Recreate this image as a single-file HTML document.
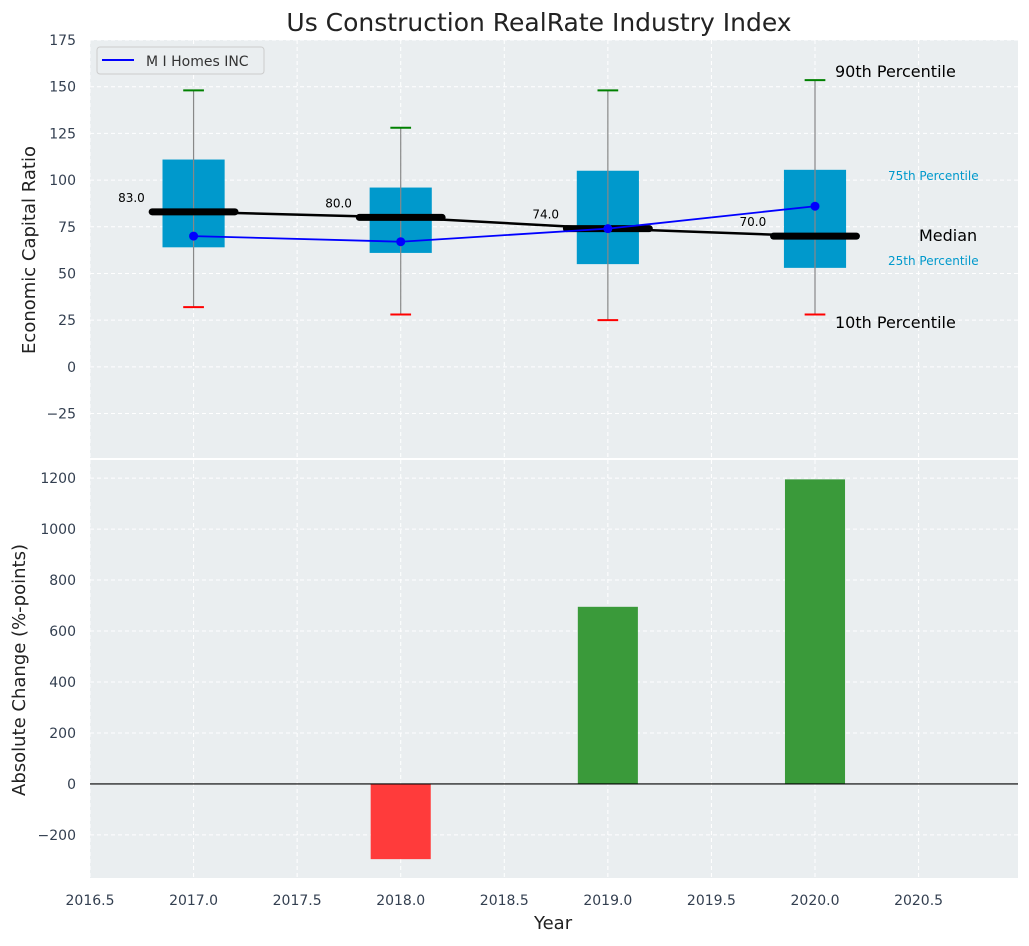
<!DOCTYPE html>
<html><head><meta charset="utf-8"><style>
body{margin:0;background:#fff;font-family:"DejaVu Sans","Liberation Sans",sans-serif;}
svg text{font-family:"DejaVu Sans","Liberation Sans",sans-serif;}
</style></head><body>
<svg id="c" width="1029" height="942" xmlns="http://www.w3.org/2000/svg"></svg>
<script>
const years=[2017,2018,2019,2020];
const p10=[32,28,25,28];
const q1=[64,61,55,53];
const medians=[83,80,74,70];
const q3=[111,96,105,105.5];
const p90=[148,128,148,153.5];
const company=[70,67,74,86];
const changes=[0,-295,695,1195];
const topTicks=[-25,0,25,50,75,100,125,150,175];
const botTicks=[-200,0,200,400,600,800,1000,1200];
const xTicks=[2016.5,2017,2017.5,2018,2018.5,2019,2019.5,2020,2020.5];

const NS="http://www.w3.org/2000/svg";
const svg=document.getElementById('c');
function el(t,a,p){const e=document.createElementNS(NS,t);for(const k in a)e.setAttribute(k,a[k]);(p||svg).appendChild(e);return e;}
const L=90,R=1018;
const X=v=>L+(v-2016.5)/(2020.98-2016.5)*(R-L);
const T0=40,T1=458,B0=460,B1=878;
const YT=v=>T0+(175-v)/(175+48.8)*(T1-T0);
const YB=v=>B0+(1271-v)/(1271+369)*(B1-B0);

let t=el('text',{x:539,y:31,'text-anchor':'middle','font-size':25,fill:'#222'});t.textContent='Us Construction RealRate Industry Index';


let bg=el('rect',{x:L,y:T0,width:R-L,height:T1-T0,fill:'#eaeef0'});

let bg2=el('rect',{x:L,y:B0,width:R-L,height:B1-B0,fill:'#eaeef0'});


const grid='#ffffff';
xTicks.forEach(v=>{
  el('line',{x1:X(v),x2:X(v),y1:T0,y2:T1,stroke:grid,'stroke-dasharray':'4,3','stroke-width':1});
  el('line',{x1:X(v),x2:X(v),y1:B0,y2:B1,stroke:grid,'stroke-dasharray':'4,3','stroke-width':1});
  const tx=el('text',{x:X(v),y:905,'text-anchor':'middle','font-size':14,fill:'#333f50'});tx.textContent=v.toFixed(1);
  
});
topTicks.forEach(v=>{
  el('line',{x1:L,x2:R,y1:YT(v),y2:YT(v),stroke:grid,'stroke-dasharray':'4,3'});
  const tx=el('text',{x:L-14,y:YT(v)+5,'text-anchor':'end','font-size':14,fill:'#333f50'});tx.textContent=v<0?'\u2212'+(-v):v;
  
});
botTicks.forEach(v=>{
  el('line',{x1:L,x2:R,y1:YB(v),y2:YB(v),stroke:grid,'stroke-dasharray':'4,3'});
  const tx=el('text',{x:L-14,y:YB(v)+5,'text-anchor':'end','font-size':14,fill:'#333f50'});tx.textContent=v<0?'\u2212'+(-v):v;
  
});

const bw=0.15;
years.forEach((y,i)=>{
  const b=el('rect',{x:X(y-bw),y:YT(q3[i]),width:X(y+bw)-X(y-bw),height:YT(q1[i])-YT(q3[i]),fill:'#0099cc'});
  
  el('line',{x1:X(y),x2:X(y),y1:YT(p90[i]),y2:YT(p10[i]),stroke:'#888','stroke-width':1.2});
  const c1=el('line',{x1:X(y-0.05),x2:X(y+0.05),y1:YT(p90[i]),y2:YT(p90[i]),stroke:'green','stroke-width':2});
  
  const c2=el('line',{x1:X(y-0.05),x2:X(y+0.05),y1:YT(p10[i]),y2:YT(p10[i]),stroke:'red','stroke-width':2});
  
});
el('polyline',{points:years.map((y,i)=>X(y)+','+YT(medians[i])).join(' '),fill:'none',stroke:'#000','stroke-width':2.5});
years.forEach((y,i)=>{
  const m=el('line',{x1:X(y-0.2),x2:X(y+0.2),y1:YT(medians[i]),y2:YT(medians[i]),stroke:'#000','stroke-width':7,'stroke-linecap':'round'});
  
  const tx=el('text',{x:X(y-0.3),y:YT(medians[i])-10,'text-anchor':'middle','font-size':12,fill:'#000'});tx.textContent=medians[i].toFixed(1);
  
});
const cl=el('polyline',{points:years.map((y,i)=>X(y)+','+YT(company[i])).join(' '),fill:'none',stroke:'blue','stroke-width':1.8});

years.forEach((y,i)=>{const d=el('circle',{cx:X(y),cy:YT(company[i]),r:4.5,fill:'blue'});});

function ann(txt,x,y,size,col,name){const a=el('text',{x:x,y:y,'font-size':size,fill:col});a.textContent=txt;}
ann('90th Percentile',835,77,16,'#000','p90-annotation');
ann('75th Percentile',888,180,12,'#0099cc','p75-annotation');
ann('Median',919,241,16,'#000','median-annotation');
ann('25th Percentile',888,265,12,'#0099cc','p25-annotation');
ann('10th Percentile',835,328,16,'#000','p10-annotation');

const lg=el('g',{});
el('rect',{x:97,y:47,width:167,height:27,rx:3,fill:'#eaeef0',stroke:'#ccc'},lg);
el('line',{x1:102,x2:134,y1:60,y2:60,stroke:'blue','stroke-width':2},lg);
const lt=el('text',{x:146,y:66,'font-size':14,fill:'#333'},lg);lt.textContent='M I Homes INC';

years.forEach((y,i)=>{
  if(changes[i]===0)return;
  const v=changes[i];
  const r=el('rect',{x:X(y-0.145),y:Math.min(YB(v),YB(0)),width:X(y+0.145)-X(y-0.145),height:Math.abs(YB(v)-YB(0)),fill:v<0?'#ff3b3b':'#3a9a3a'});
  
});
el('line',{x1:L,x2:R,y1:YB(0),y2:YB(0),stroke:'#000','stroke-width':1.2});

ann('Year',534,929,18,'#222','x-axis-title');
let a1=el('text',{'font-size':18,fill:'#222','text-anchor':'middle',transform:'translate(35,250) rotate(-90)'});a1.textContent='Economic Capital Ratio';

let a2=el('text',{'font-size':18,fill:'#222','text-anchor':'middle',transform:'translate(25,670) rotate(-90)'});a2.textContent='Absolute Change (%-points)';

</script>
</body></html>
